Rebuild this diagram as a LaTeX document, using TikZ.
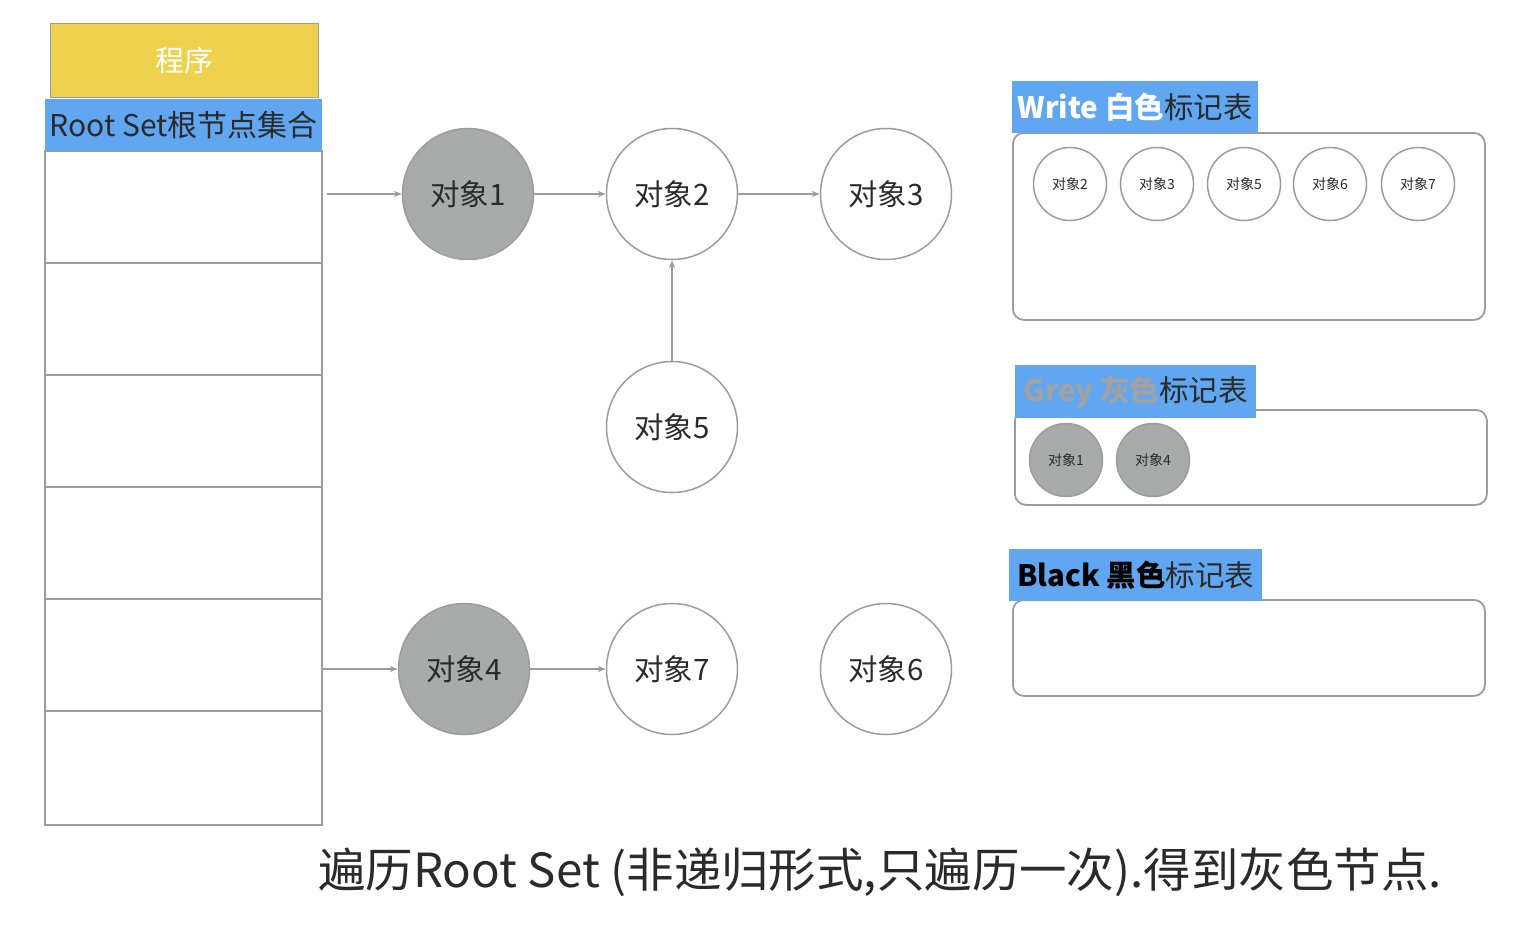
\documentclass[tikz,border=0pt]{standalone}
\usepackage{fontspec}
\setmainfont{Noto Sans CJK SC}
\usetikzlibrary{arrows.meta}
\definecolor{lg}{HTML}{9C9C9C}
\definecolor{gfill}{HTML}{A9AAAA}
\definecolor{yel}{HTML}{EED24E}
\definecolor{blu}{HTML}{60A6F0}
\definecolor{txt}{HTML}{2A2A2A}
\definecolor{greytxt}{HTML}{A2A2A2}
\tikzset{
  obj/.style={circle, draw=lg, line width=1.5pt, minimum size=131pt, inner sep=0pt, text=txt, font=\fontsize{29.5}{29.5}\selectfont},
  gobj/.style={obj, fill=gfill},
  sobj/.style={circle, draw=lg, line width=1.5pt, minimum size=73pt, inner sep=0pt, text=txt, font=\fontsize{14}{14}\selectfont},
  gsobj/.style={sobj, fill=gfill},
  hdr/.style={fill=blu, inner sep=0pt, anchor=north west, font=\fontsize{29.5}{29.5}\selectfont, text=txt},
  tbl/.style={draw=lg, line width=1.8pt, rounded corners=11pt, anchor=north west, inner sep=0pt},
  arr/.style={draw=lg, line width=1.5pt, -{Stealth[length=8pt,width=6pt]}},
  grid/.style={draw=lg, line width=1.5pt}
}
\begin{document}
\begin{tikzpicture}[x=1pt,y=-1pt]
\useasboundingbox (0,0) rectangle (1534,926);
% program stack
\node[draw=lg, line width=1.2pt, fill=yel, anchor=north west, minimum width=268pt, minimum height=74pt, inner sep=0pt, text=white, font=\fontsize{29}{29}\selectfont] (prog) at (50,23) {程序};
\draw[grid] (45,151) rectangle (322,825);
\foreach \y in {263,375,487,599,711} \draw[grid] (45,\y) -- (322,\y);
\node[fill=blu, anchor=north west, minimum width=277pt, minimum height=52pt, inner sep=0pt, text=txt, font=\fontsize{30}{30}\selectfont] (root) at (45,99) {Root Set根节点集合};
\coordinate (r1) at (327,194);
\coordinate (r5) at (323,669);
% objects
\node[gobj] (o1) at (468,194) {对象1};
\node[obj] (o2) at (672,194) {对象2};
\node[obj] (o3) at (886,194) {对象3};
\node[obj] (o5) at (672,427) {对象5};
\node[gobj] (o4) at (464,669) {对象4};
\node[obj] (o7) at (672,669) {对象7};
\node[obj] (o6) at (886,669) {对象6};
\draw[arr] (r1) -- (o1);
\draw[arr] (o1) -- (o2);
\draw[arr] (o2) -- (o3);
\draw[arr] (o5) -- (o2);
\draw[arr] (r5) -- (o4);
\draw[arr] (o4) -- (o7);
% white table
\node[tbl, minimum width=472pt, minimum height=187pt] (wt) at (1012,132) {};
\node[hdr, minimum width=246pt, minimum height=52pt] (wh) at (1012,81) {\bfseries\color{white}Write 白色\mdseries\color{txt}标记表};
\foreach \x/\n in {1070/2,1157/3,1244/5,1330/6,1418/7}
  \node[sobj] (w\n) at (\x,184) {对象\n};
% grey table
\node[tbl, minimum width=472pt, minimum height=95pt] (gt) at (1014,409) {};
\node[hdr, minimum width=241pt, minimum height=53pt] (gh) at (1015,365) {\bfseries\color{greytxt}Grey 灰色\mdseries\color{txt}标记表};
\node[gsobj] (g1) at (1066,460) {对象1};
\node[gsobj] (g4) at (1153,460) {对象4};
% black table
\node[tbl, minimum width=472pt, minimum height=96pt] (bt) at (1012,599) {};
\node[hdr, minimum width=253pt, minimum height=52pt] (bh) at (1009,549) {\bfseries\color{black}Black 黑色\mdseries\color{txt}标记表};
% caption
\node[anchor=base west, inner sep=0pt, text=txt, font=\fontsize{47}{47}\selectfont] (cap) at (318,887) {\scalebox{1.01}[1]{遍历Root Set (非递归形式,只遍历一次).得到灰色节点.}};
\end{tikzpicture}
\end{document}
